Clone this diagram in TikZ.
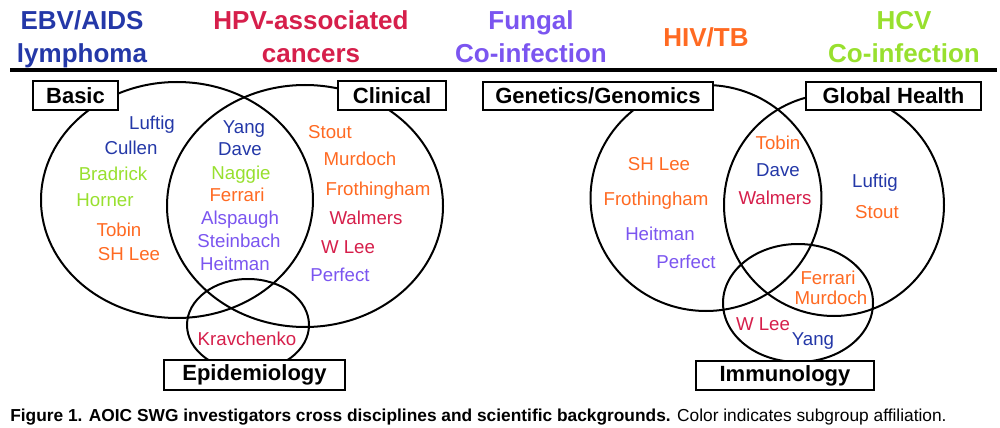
\documentclass[tikz,border=0pt]{standalone}
\usepackage{fontspec}
\setmainfont{Liberation Sans}
\definecolor{cblue}{HTML}{2438A8}
\definecolor{cred}{HTML}{D61F4B}
\definecolor{cpurple}{HTML}{7B55F0}
\definecolor{corange}{HTML}{FF6A22}
\definecolor{cgreen}{HTML}{98E02E}
\begin{document}
\begin{tikzpicture}[x=0.75pt,y=-0.75pt,
  hdr/.style={font=\fontsize{19.5}{24.75}\selectfont\bfseries, align=center, inner sep=0, anchor=base},
  nm/.style={font=\fontsize{14}{16}\selectfont, inner sep=0, anchor=base},
  lbl/.style={draw, line width=1.5pt, fill=white, font=\fontsize{16.5}{18}\selectfont\bfseries, inner sep=0},
  venn/.style={line width=1.5pt}]
\useasboundingbox[fill=white] (0,0) rectangle (1000,428);
% headers (base anchor = baseline of last line)
\node[hdr, text=cblue] (ebv) at (82,63) {EBV/AIDS\\lymphoma};
\node[hdr, text=cred] (hpv) at (311,63) {HPV-associated\\cancers};
\node[hdr, text=cpurple] (fun) at (531,63) {Fungal\\Co-infection};
\node[hdr, text=corange] (hiv) at (706,47) {HIV/TB};
\node[hdr, text=cgreen] (hcv) at (904,63) {HCV\\Co-infection};
\draw[line width=3pt] (10,70) coordinate (rulea) -- (997,70) coordinate (ruleb);
% left Venn
\draw[venn] (177,200) ellipse [x radius=102pt, y radius=88.5pt];
\draw[venn] (305,206) ellipse [x radius=103.5pt, y radius=90.75pt];
\draw[venn] (248,325) ellipse [x radius=45.75pt, y radius=34.5pt];
\node[lbl, minimum width=63.75pt, minimum height=21.75pt] (basic) at (75.5,95.5) {Basic};
\node[lbl, minimum width=81pt, minimum height=21.75pt] (clinical) at (392,95.5) {Clinical};
\node[lbl, minimum width=135.75pt, minimum height=22.5pt] (epi) at (254.5,375) {Epidemiology};
\node[nm, text=cblue] (l1) at (152,129) {Luftig};
\node[nm, text=cblue] (l2) at (131,154) {Cullen};
\node[nm, text=cgreen] (l3) at (113,180) {Bradrick};
\node[nm, text=cgreen] (l4) at (105,206) {Horner};
\node[nm, text=corange] (l5) at (119,236) {Tobin};
\node[nm, text=corange] (l6) at (129,260) {SH Lee};
\node[nm, text=cblue] (m1) at (244,133) {Yang};
\node[nm, text=cblue] (m2) at (240,155) {Dave};
\node[nm, text=cgreen] (m3) at (241,179) {Naggie};
\node[nm, text=corange] (m4) at (237,201) {Ferrari};
\node[nm, text=cpurple] (m5) at (240,224) {Alspaugh};
\node[nm, text=cpurple] (m6) at (239,247) {Steinbach};
\node[nm, text=cpurple] (m7) at (235,270) {Heitman};
\node[nm, text=corange] (r1) at (330,138) {Stout};
\node[nm, text=corange] (r2) at (360,166) {Murdoch};
\node[nm, text=corange] (r3) at (378,195) {Frothingham};
\node[nm, text=cred] (r4) at (366,224) {Walmers};
\node[nm, text=cred] (r5) at (348,253) {W Lee};
\node[nm, text=cpurple] (r6) at (340,281) {Perfect};
\node[nm, text=cred] (k1) at (247,345) {Kravchenko};
% right Venn
\draw[venn] (706,198) ellipse [x radius=86.6pt, y radius=84.75pt];
\draw[venn] (834,205) ellipse [x radius=82.5pt, y radius=83.25pt];
\draw[venn] (798,303) ellipse [x radius=56.25pt, y radius=44.25pt];
\node[lbl, minimum width=172.5pt, minimum height=21pt] (gen) at (598,96) {Genetics/Genomics};
\node[lbl, minimum width=131.25pt, minimum height=21pt] (glob) at (893.5,96) {Global Health};
\node[lbl, minimum width=133.5pt, minimum height=21.75pt] (imm) at (785,375.5) {Immunology};
\node[nm, text=corange] (g1) at (659,171) {SH Lee};
\node[nm, text=corange] (g2) at (656,205) {Frothingham};
\node[nm, text=cpurple] (g3) at (660,240) {Heitman};
\node[nm, text=cpurple] (g4) at (686,268) {Perfect};
\node[nm, text=corange] (c1) at (778,149) {Tobin};
\node[nm, text=cblue] (c2) at (778,176) {Dave};
\node[nm, text=cred] (c3) at (775,204) {Walmers};
\node[nm, text=cblue] (h1) at (875,187) {Luftig};
\node[nm, text=corange] (h2) at (877,218) {Stout};
\node[nm, text=corange] (i1) at (828,284) {Ferrari};
\node[nm, text=corange] (i2) at (831,304) {Murdoch};
\node[nm, text=cred] (i3) at (763,330) {W Lee};
\node[nm, text=cblue] (i4) at (813,345) {Yang};
% caption
\node[anchor=base west, inner sep=0, font=\fontsize{13}{15}\selectfont] (cap) at (10,421.5)
  {\textbf{Figure 1. AOIC SWG investigators cross disciplines and scientific backgrounds.} Color indicates subgroup affiliation.};
\end{tikzpicture}
\end{document}
